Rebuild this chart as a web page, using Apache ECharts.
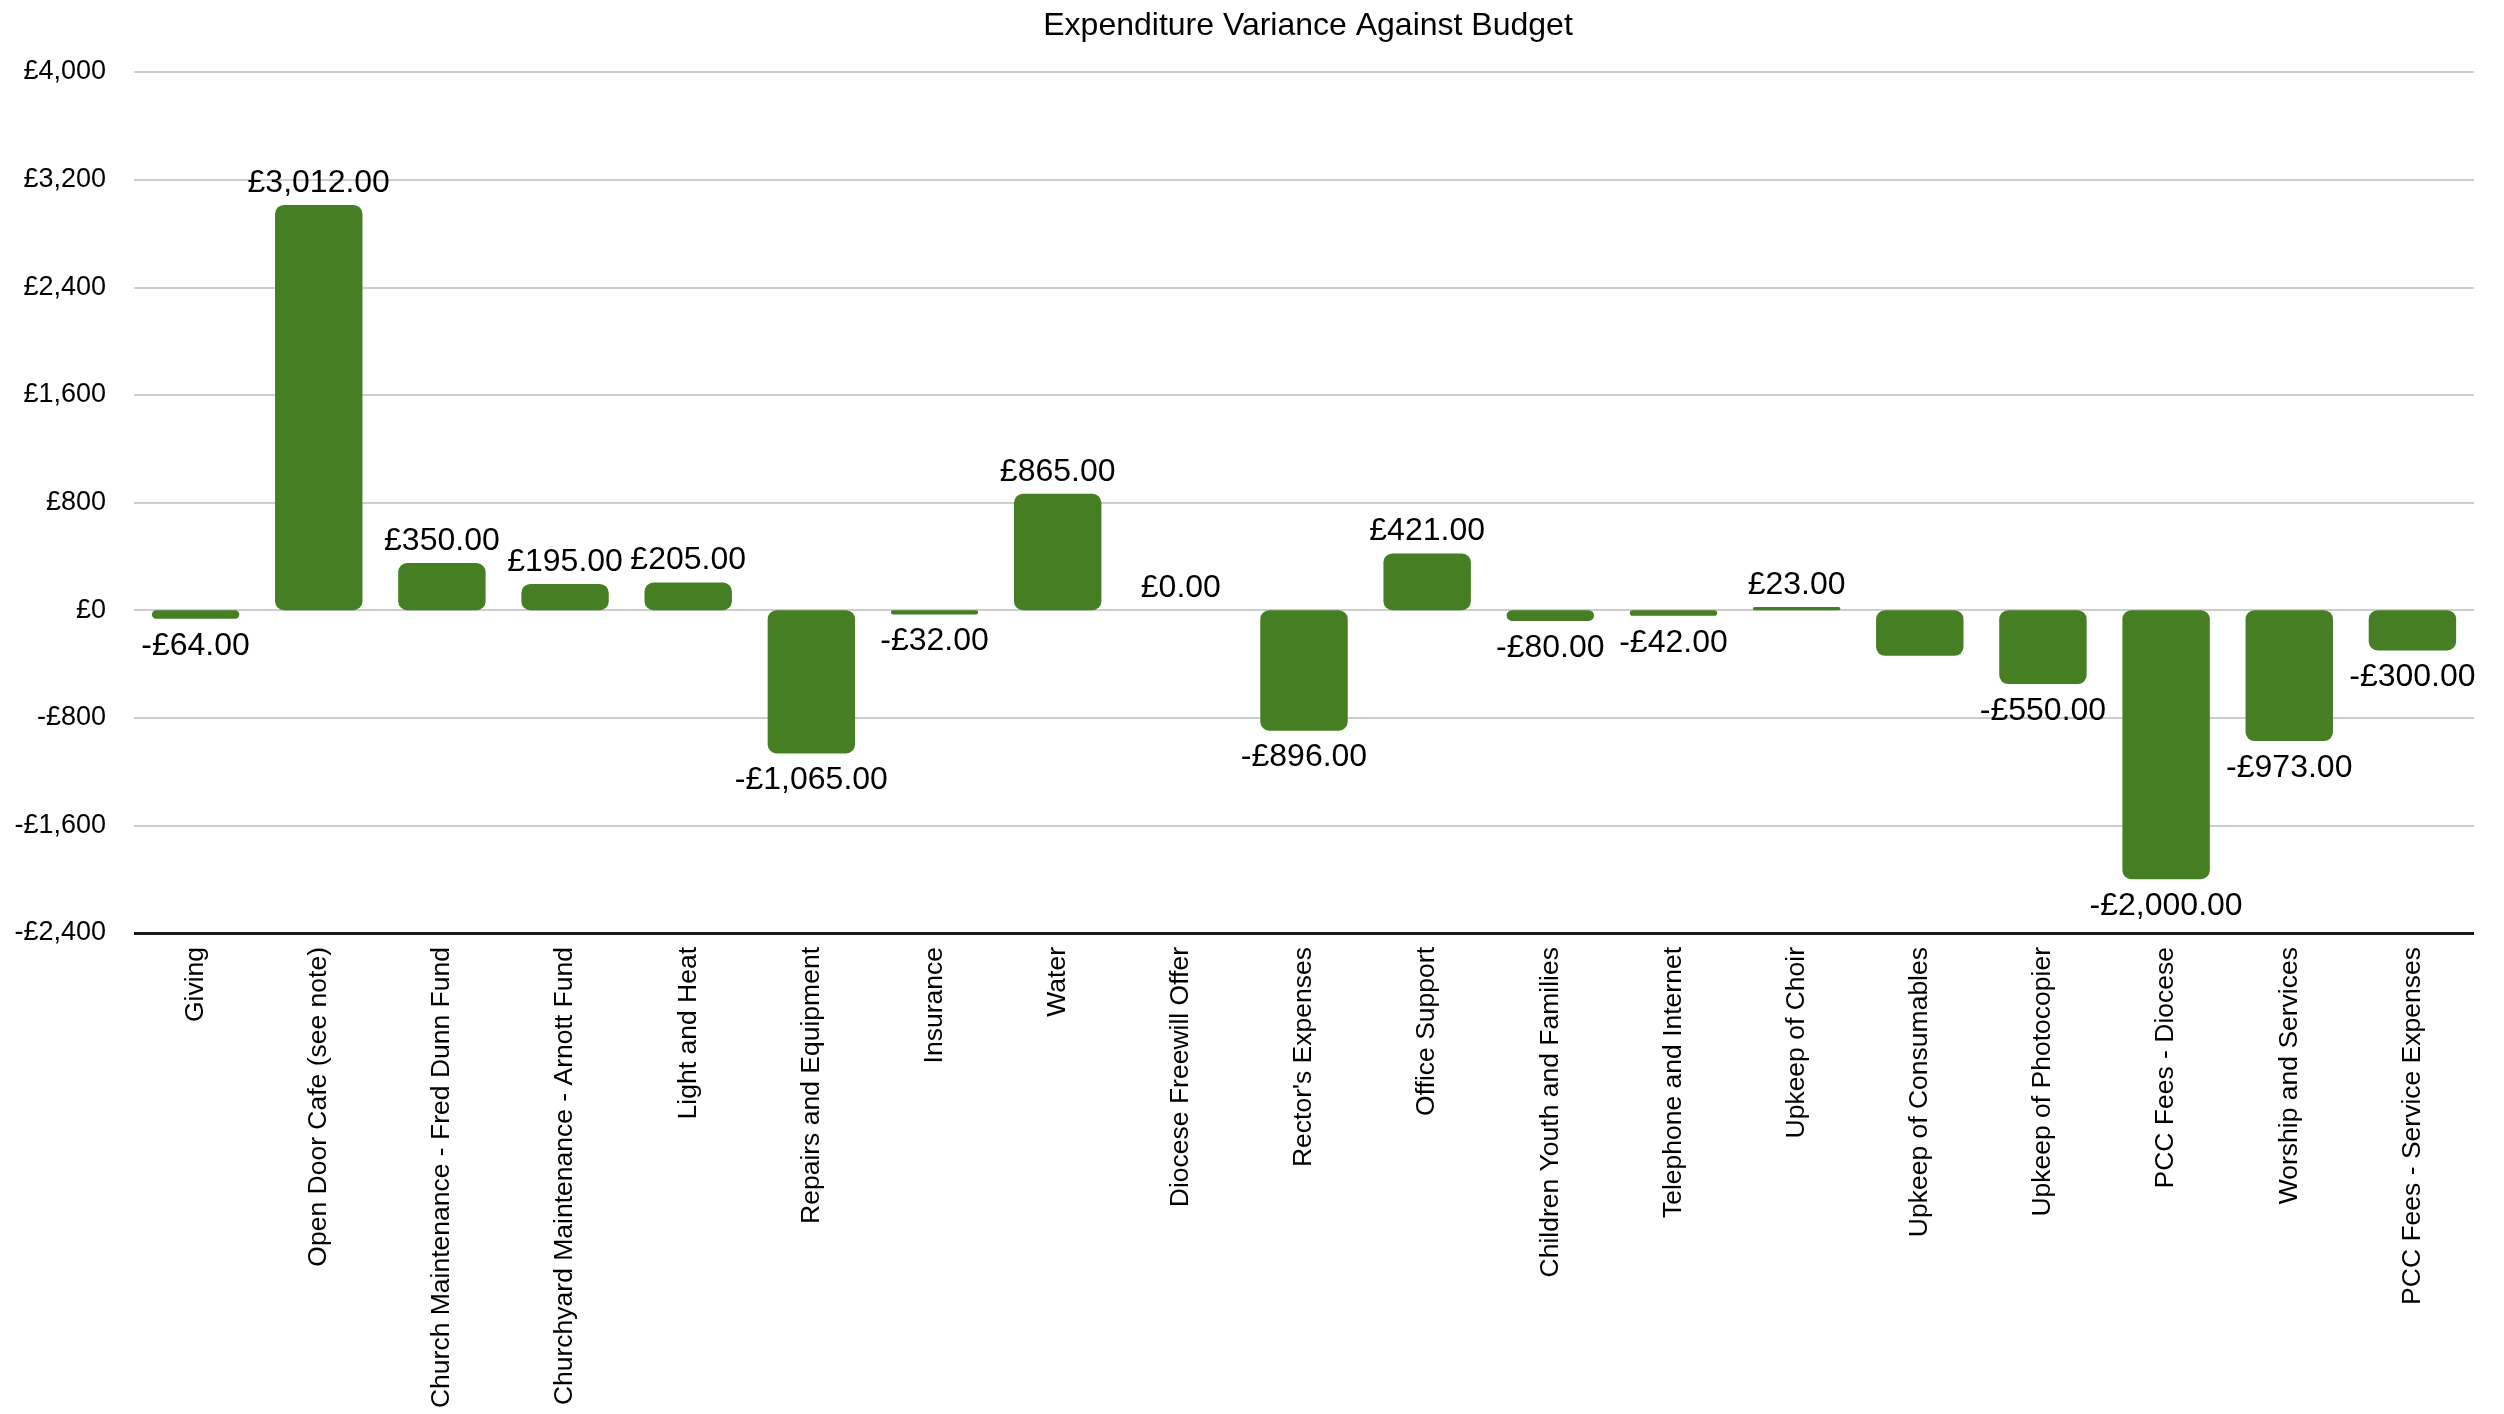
<!DOCTYPE html>
<html>
<head>
<meta charset="utf-8">
<script src="https://cdn.jsdelivr.net/npm/echarts@6/dist/echarts.min.js"></script>
<style>
html,body{margin:0;padding:0;background:#fff;}
#chart{width:2504px;height:1414px;}
</style>
</head>
<body>
<div id="chart"></div>
<script>
var categories = ['Giving','Open Door Cafe (see note)','Church Maintenance - Fred Dunn Fund','Churchyard Maintenance - Arnott Fund','Light and Heat','Repairs and Equipment','Insurance','Water','Diocese Freewill Offer',"Rector's Expenses",'Office Support','Children Youth and Families','Telephone and Internet','Upkeep of Choir','Upkeep of Consumables','Upkeep of Photocopier','PCC Fees - Diocese','Worship and Services','PCC Fees - Service Expenses'];
var variance = [-64, 3012, 350, 195, 205, -1065, -32, 865, 0, -896, 421, -80, -42, 23, -340, -550, -2000, -973, -300];
var hiddenLabels = ['Upkeep of Consumables'];
var yMin = -2400, yMax = 4000, yStep = 800;
var chartTitle = 'Expenditure Variance Against Budget';

function fmtNum(n, dec){
  var s = Math.abs(n).toFixed(dec);
  var parts = s.split('.');
  parts[0] = parts[0].replace(/\B(?=(\d{3})+(?!\d))/g, ',');
  return (n < 0 ? '-' : '') + '£' + parts.join('.');
}

var FONT = '"Liberation Sans", Arial, Helvetica, sans-serif';
var seriesData = variance.map(function(v, i){
  var neg = v < 0;
  var item = {value: v, label: {position: neg ? 'bottom' : 'top', distance: neg ? 11 : 6}};
  if (hiddenLabels.indexOf(categories[i]) >= 0) item.label.show = false;
  return item;
});

var chart = echarts.init(document.getElementById('chart'));
chart.setOption({
  animation: false,
  backgroundColor: '#ffffff',
  title: {
    text: chartTitle,
    left: 1303,
    textAlign: 'center',
    top: 5,
    textStyle: {fontFamily: FONT, fontSize: 32, fontWeight: 'normal', color: '#000'}
  },
  grid: {left: 134, right: 30, top: 72, bottom: 481, containLabel: false},
  xAxis: {
    type: 'category',
    data: categories,
    axisLine: {show: false},
    axisTick: {show: false},
    axisLabel: {
      interval: 0, rotate: 90, margin: 14,
      fontFamily: FONT, fontSize: 26.5, color: '#000'
    },
    splitLine: {show: false}
  },
  yAxis: {
    type: 'value',
    min: yMin, max: yMax, interval: yStep,
    axisLine: {show: false},
    axisTick: {show: false},
    axisLabel: {
      margin: 28,
      fontFamily: FONT, fontSize: 27, color: '#000',
      formatter: function(v){ return fmtNum(v, 0); }
    },
    splitLine: {show: true, lineStyle: {color: '#cdcdcd', width: 2}}
  },
  series: [{
    type: 'bar',
    data: seriesData,
    barWidth: '71%',
    itemStyle: {color: '#467f23', borderRadius: 9},
    label: {
      show: true,
      fontFamily: FONT, fontSize: 32, color: '#000',
      formatter: function(p){ return fmtNum(p.value, 2); }
    },
    markLine: {
      silent: true, symbol: 'none', label: {show: false},
      lineStyle: {color: '#1a1a1a', width: 3, type: 'solid'},
      data: [{yAxis: yMin}]
    }
  }]
});
</script>
</body>
</html>
